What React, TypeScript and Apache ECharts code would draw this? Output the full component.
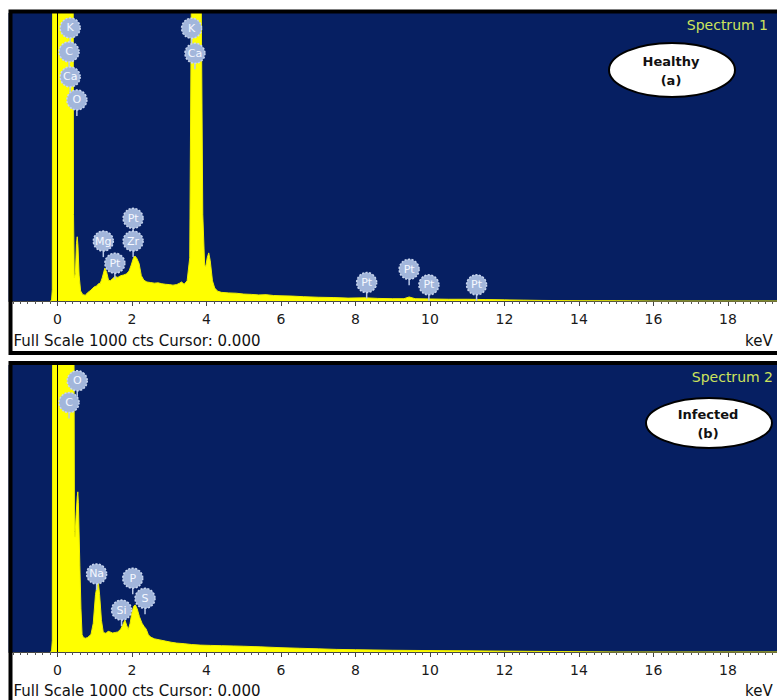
import React, { useEffect, useRef } from "react";
import * as echarts from "echarts";

// ---- Data (energy in keV, intensity in counts; full scale 1000 cts) ----
const healthySpectrum: [number, number][] = [
  [-0.2, 0], [-0.16, 0], [-0.14, 40], [-0.13, 1200], [0.42, 1200], [0.43, 300], [0.45, 80],
  [0.48, 95], [0.51, 200], [0.53, 223], [0.55, 190], [0.58, 90], [0.62, 35], [0.68, 22],
  [0.75, 20], [0.8, 28], [0.85, 33], [0.9, 38], [0.95, 45], [1.0, 50], [1.05, 52], [1.1, 60],
  [1.15, 62], [1.2, 80], [1.27, 114], [1.32, 100], [1.37, 72], [1.42, 70], [1.48, 78],
  [1.55, 85], [1.62, 82], [1.7, 88], [1.77, 90], [1.85, 94], [1.92, 104], [1.98, 125],
  [2.04, 150], [2.08, 156], [2.13, 148], [2.19, 130], [2.25, 88], [2.32, 72], [2.4, 66],
  [2.5, 64], [2.6, 62], [2.7, 63], [2.8, 60], [2.9, 58], [3.0, 57], [3.1, 55], [3.2, 57],
  [3.28, 62], [3.33, 66], [3.4, 58], [3.48, 70], [3.55, 150], [3.6, 1200], [3.85, 1200],
  [3.9, 300], [3.95, 125], [3.98, 120], [4.02, 150], [4.06, 167], [4.1, 140], [4.16, 70],
  [4.22, 45], [4.3, 34], [4.4, 30], [4.6, 28], [4.8, 27], [5.0, 24], [5.2, 23], [5.4, 21],
  [5.6, 22], [5.8, 19], [6.0, 18], [6.3, 17], [6.6, 15], [7.0, 13], [7.4, 12], [7.8, 10],
  [8.27, 11], [8.6, 9], [9.0, 8], [9.3, 8], [9.44, 14], [9.6, 8], [10.0, 7], [10.5, 6],
  [11.0, 6], [11.5, 5], [12.0, 4], [12.5, 3], [13.0, 2], [14.0, 1], [15.0, 1], [16.0, 0],
  [20.0, 0],
];

const infectedSpectrum: [number, number][] = [
  [-0.2, 0], [-0.16, 0], [-0.14, 40], [-0.13, 1200], [0.44, 1200], [0.455, 420], [0.47, 400],
  [0.5, 480], [0.53, 540], [0.545, 558], [0.56, 520], [0.6, 300], [0.63, 150], [0.66, 60],
  [0.7, 50], [0.75, 48], [0.8, 50], [0.85, 55], [0.9, 62], [0.96, 100], [1.02, 200],
  [1.09, 251], [1.13, 200], [1.18, 110], [1.23, 68], [1.3, 65], [1.36, 72], [1.41, 70],
  [1.48, 66], [1.55, 68], [1.62, 70], [1.7, 80], [1.77, 100], [1.81, 111], [1.86, 92],
  [1.9, 78], [1.95, 100], [2.0, 140], [2.05, 160], [2.09, 164], [2.14, 150], [2.2, 123],
  [2.27, 100], [2.33, 88], [2.38, 80], [2.44, 60], [2.5, 52], [2.6, 46], [2.75, 42],
  [2.9, 38], [3.05, 34], [3.2, 31], [3.4, 29], [3.6, 26], [3.83, 24], [4.1, 23], [4.4, 22],
  [4.72, 21], [5.0, 20], [5.44, 18], [6.0, 15], [6.5, 13], [7.0, 11], [7.5, 9], [8.0, 8],
  [9.0, 6], [10.0, 5], [11.0, 4], [12.0, 3], [13.0, 2], [14.0, 1], [15.0, 0], [20.0, 0],
];

const healthyPeakLabels = ["K", "C", "Ca", "O", "K", "Ca", "Mg", "Pt", "Zr", "Pt", "Pt", "Pt", "Pt", "Pt"];
const healthyPeakMarks: [number, number][] = [
  [0.34, 948], [0.31, 865], [0.34, 778], [0.52, 698], [3.6, 947], [3.69, 860],
  [1.23, 208], [2.03, 287], [2.03, 208], [1.54, 131],
  [8.3, 64], [9.44, 110], [9.97, 56], [11.25, 56],
];

const infectedPeakLabels = ["O", "C", "Na", "P", "Si", "S"];
const infectedPeakMarks: [number, number][] = [
  [0.53, 945], [0.31, 869], [1.05, 272], [2.02, 257], [1.72, 146], [2.35, 187],
];

const panelTitles = ["Spectrum 1", "Spectrum 2"];
const sampleNames = ["Healthy", "Infected"];
const sampleTags = ["(a)", "(b)"];
const footerText = "Full Scale 1000 cts Cursor: 0.000";
const unitText = "keV";

const NAVY = "#061f62";
const YELLOW = "#ffff00";

function badgeSeries(gridIdx: number, marks: [number, number][], labels: string[]) {
  return {
    type: "custom",
    xAxisIndex: gridIdx,
    yAxisIndex: gridIdx,
    z: 10,
    data: marks,
    renderItem: (params: any, api: any) => {
      const p = api.coord([api.value(0), api.value(1)]);
      return {
        type: "group",
        children: [
          {
            type: "line",
            shape: { x1: p[0], y1: p[1] + 9, x2: p[0], y2: p[1] + 16 },
            style: { stroke: "#b8c7e6", lineWidth: 1.5 },
          },
          {
            type: "circle",
            shape: { cx: p[0], cy: p[1], r: 10 },
            style: { fill: "#a2b6db", stroke: "#c9d6ee", lineWidth: 1.5, lineDash: [2, 1.5] },
          },
          {
            type: "text",
            x: p[0],
            y: p[1],
            style: {
              text: labels[params.dataIndex],
              fill: "#f5f8ff",
              font: "11px 'DejaVu Sans'",
              align: "center",
              verticalAlign: "middle",
            },
          },
        ],
      };
    },
  };
}

function spectrumSeries(gridIdx: number, data: [number, number][]) {
  return {
    type: "line",
    xAxisIndex: gridIdx,
    yAxisIndex: gridIdx,
    data,
    showSymbol: false,
    clip: true,
    z: 3,
    lineStyle: { color: "#f0f000", width: 1 },
    areaStyle: { color: YELLOW, opacity: 1 },
    markLine: {
      silent: true,
      symbol: "none",
      label: { show: false },
      lineStyle: { color: "#000", width: 1, type: "solid" },
      data: [{ xAxis: 0 }],
    },
  };
}

function xAxisFor(gridIdx: number) {
  return {
    type: "value",
    gridIndex: gridIdx,
    min: -2,
    max: 20,
    interval: 2,
    axisLine: { show: true, lineStyle: { color: "#444", width: 1 } },
    axisTick: { show: true, length: 5, lineStyle: { color: "#444" } },
    minorTick: { show: true, splitNumber: 10, length: 3, lineStyle: { color: "#555" } },
    splitLine: { show: false },
    minorSplitLine: { show: false },
    axisLabel: {
      show: true,
      showMinLabel: false,
      showMaxLabel: false,
      margin: 11,
      color: "#1a1a1a",
      fontFamily: "DejaVu Sans",
      fontSize: 14,
    },
  };
}

function yAxisFor(gridIdx: number) {
  return { type: "value", gridIndex: gridIdx, min: 0, max: 1000, show: false };
}

export default function App() {
  const ref = useRef<HTMLDivElement>(null);

  useEffect(() => {
    if (!ref.current) return;
    const chart = echarts.init(ref.current, undefined, { renderer: "svg" });

    const panelTops = [13, 365];
    const frameRects = [
      { x: 10.5, y: 11.5, width: 800, height: 341.5 },
      { x: 10.5, y: 363, width: 800, height: 400 },
    ];
    const footerY = [341, 691];
    const ellipses = [
      { cx: 672, cy: 70, rx: 63, ry: 27 },
      { cx: 709, cy: 423, rx: 63, ry: 25 },
    ];
    const titleRight = [768, 773];

    const graphics: any[] = [
      { type: "rect", z: 100, shape: { x: 0, y: 0, width: 8.5, height: 700 }, style: { fill: "#fff" } },
    ];
    for (let i = 0; i < 2; i++) {
      graphics.push({
        type: "rect",
        z: 101,
        shape: frameRects[i],
        style: { fill: "none", stroke: "#000", lineWidth: 4 },
      });
      graphics.push({
        type: "text",
        z: 102,
        x: 13.5,
        y: footerY[i],
        style: { text: footerText, font: "15px 'DejaVu Sans'", fill: "#111", align: "left", verticalAlign: "middle" },
      });
      graphics.push({
        type: "text",
        z: 102,
        x: 745,
        y: footerY[i],
        style: { text: unitText, font: "15px 'DejaVu Sans'", fill: "#111", align: "left", verticalAlign: "middle" },
      });
      graphics.push({
        type: "text",
        z: 102,
        x: titleRight[i],
        y: panelTops[i] + 12,
        style: { text: panelTitles[i], font: "14px 'DejaVu Sans'", fill: "#cde35c", align: "right", verticalAlign: "middle" },
      });
      graphics.push({
        type: "ellipse",
        z: 102,
        shape: ellipses[i],
        style: { fill: "#fff", stroke: "#000", lineWidth: 2 },
      });
      graphics.push({
        type: "text",
        z: 103,
        x: ellipses[i].cx - 1,
        y: ellipses[i].cy - 9,
        style: { text: sampleNames[i], font: "bold 13px 'DejaVu Sans'", fill: "#111", align: "center", verticalAlign: "middle" },
      });
      graphics.push({
        type: "text",
        z: 103,
        x: ellipses[i].cx - 1,
        y: ellipses[i].cy + 10,
        style: { text: sampleTags[i], font: "bold 13px 'DejaVu Sans'", fill: "#111", align: "center", verticalAlign: "middle" },
      });
    }

    chart.setOption({
      animation: false,
      backgroundColor: "#fff",
      grid: [
        { left: -17, top: 13, width: 819.5, height: 288, show: true, backgroundColor: NAVY, borderWidth: 0, containLabel: false, outerBoundsMode: "none" },
        { left: -17, top: 365, width: 819.5, height: 287, show: true, backgroundColor: NAVY, borderWidth: 0, containLabel: false, outerBoundsMode: "none" },
      ],
      xAxis: [xAxisFor(0), xAxisFor(1)],
      yAxis: [yAxisFor(0), yAxisFor(1)],
      series: [
        spectrumSeries(0, healthySpectrum),
        spectrumSeries(1, infectedSpectrum),
        badgeSeries(0, healthyPeakMarks, healthyPeakLabels),
        badgeSeries(1, infectedPeakMarks, infectedPeakLabels),
      ],
      graphic: graphics,
    });

    return () => chart.dispose();
  }, []);

  return <div ref={ref} style={{ position: "absolute", left: 0, top: 0, width: 777, height: 700 }} />;
}
